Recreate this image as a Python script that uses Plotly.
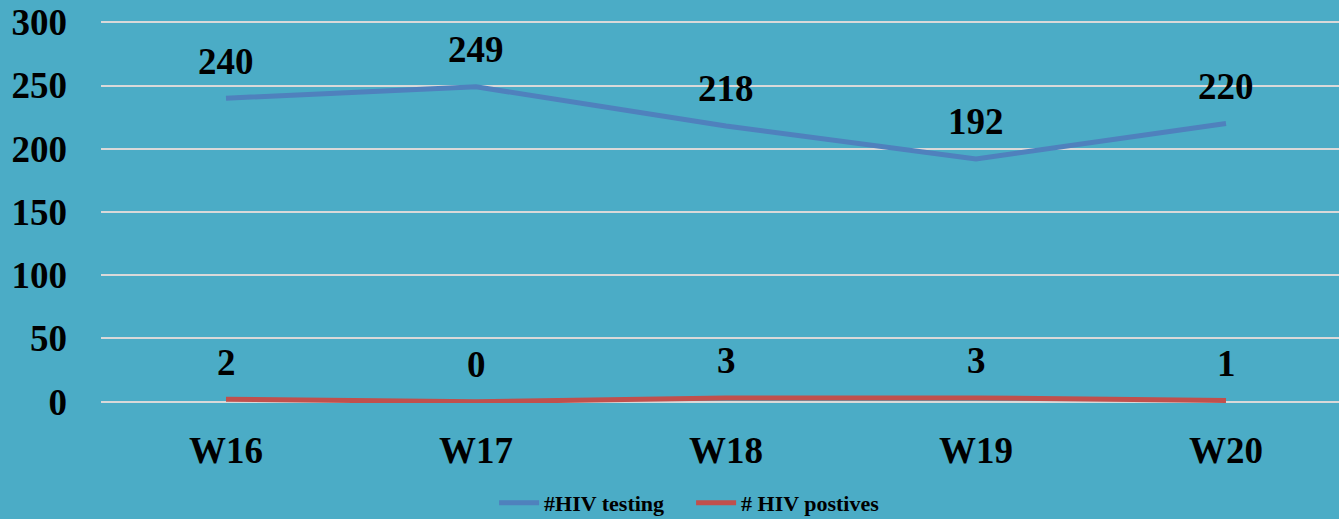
import plotly.graph_objects as go

# Weekly HIV data
weeks = ['W16', 'W17', 'W18', 'W19', 'W20']
hiv_testing = [240, 249, 218, 192, 220]
hiv_positives = [2, 0, 3, 3, 1]
y_ticks = [0, 50, 100, 150, 200, 250, 300]

BG = '#4BACC6'
FONT = 'Liberation Serif, Times New Roman, serif'

fig = go.Figure()

fig.add_trace(go.Scatter(
    x=weeks, y=hiv_testing,
    mode='lines',
    line=dict(color='#4F81BD', width=5),
    name='<b>#HIV testing</b>&nbsp;&nbsp;&nbsp;&nbsp;'
))
fig.add_trace(go.Scatter(
    x=weeks, y=hiv_positives,
    mode='lines',
    line=dict(color='#C0504D', width=5),
    name='<b># HIV postives</b>'
))

# data labels above each point
for series in (hiv_testing, hiv_positives):
    for w, v in zip(weeks, series):
        fig.add_annotation(
            x=w, y=v, text='<b>%d</b>' % v,
            showarrow=False, yshift=37,
            font=dict(family=FONT, size=37, color='black')
        )

fig.update_layout(
    width=1339, height=519,
    paper_bgcolor=BG, plot_bgcolor=BG,
    margin=dict(l=101, r=0, t=21, b=116, autoexpand=False),
    font=dict(family=FONT, color='black'),
    xaxis=dict(
        range=[-0.5, 4.452],
        showgrid=False, zeroline=False, showline=False,
        tickfont=dict(family=FONT, size=37),
        ticklabelstandoff=22,
        tickprefix='<b>', ticksuffix='</b>'
    ),
    yaxis=dict(
        range=[-1, 301],
        tickvals=y_ticks,
        ticktext=['<b>%d</b>' % t for t in y_ticks],
        gridcolor='#D9D9D9', gridwidth=1.5,
        zeroline=False, showline=False,
        tickfont=dict(family=FONT, size=37),
        ticklabelstandoff=33
    ),
    legend=dict(
        orientation='h',
        xref='container', x=0.515, xanchor='center',
        yref='container', y=0.031, yanchor='middle',
        font=dict(family=FONT, size=22, color='black'),
        bgcolor='rgba(0,0,0,0)',
        itemwidth=40
    ),
    showlegend=True
)

# drop the default page margin so the chart fills the window
fig.write_html('out.html', config={'displayModeBar': False},
               post_script="document.body.style.margin='0';")
